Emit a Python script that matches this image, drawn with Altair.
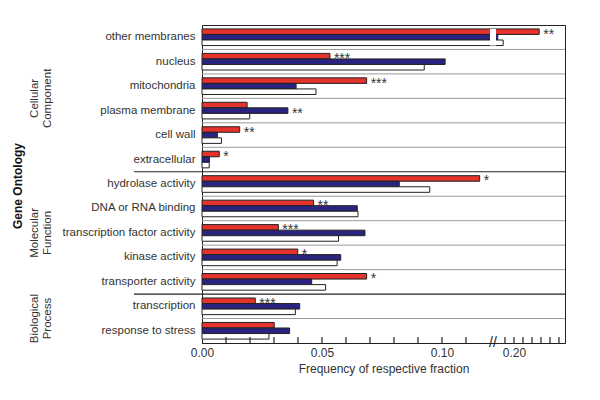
import altair as alt
import pandas as pd

# ---------------- data ----------------
CATS = ["other membranes", "nucleus", "mitochondria", "plasma membrane", "cell wall",
        "extracellular", "hydrolase activity", "DNA or RNA binding",
        "transcription factor activity", "kinase activity", "transporter activity",
        "transcription", "response to stress"]
SERIES = ["set A", "set B", "set C"]
RED = [0.228, 0.0533, 0.0686, 0.0188, 0.0157, 0.0072, 0.1157, 0.0465, 0.0318, 0.0399, 0.0686, 0.0222, 0.0301]
BLUE = [0.182, 0.1013, 0.0392, 0.0358, 0.0064, 0.0031, 0.0822, 0.0647, 0.0679, 0.0578, 0.0457, 0.0407, 0.0365]
WHITE = [0.188, 0.0926, 0.0475, 0.0199, 0.0081, 0.0030, 0.0949, 0.0650, 0.0569, 0.0563, 0.0515, 0.0389, 0.0279]
STARS = ["**", "***", "***", "**", "**", "*", "*", "**", "***", "*", "*", "***", ""]
STAR_ON = ["set A", "set A", "set A", "set B", "set A", "set A", "set A", "set A", "set A",
           "set A", "set A", "set A", "set A"]
GROUPS = ["Cellular\nComponent", "Molecular\nFunction", "Biological\nProcess"]
GROUP_SIZES = [6, 5, 2]
TICK_LABELS = [0.0, 0.05, 0.10, 0.20]
MINOR_TICKS = [0.01, 0.02, 0.03, 0.04, 0.05, 0.06, 0.07, 0.08, 0.09, 0.10, 0.11,
               0.19, 0.20, 0.21, 0.22, 0.23, 0.24, 0.25]
BREAK = [0.12, 0.18]
X_MAX = 0.2567
X_TITLE = "Frequency of respective fraction"
Y_TITLE = "Gene Ontology"

# ---------------- style ----------------
FONT = "Liberation Sans"
COLORS = ["#E4332D", "#2B2380", "#FFFFFF"]
INK = "#222222"
TXT = "#333333"
W, H = 363, 318
N = len(CATS)
STEP = H / N
PX_PER_UNIT = 2400
BRK_LO_PX = BREAK[0] * PX_PER_UNIT
BRK_HI_PX = BRK_LO_PX + 6

rows = []
for i, c in enumerate(CATS):
    for s, vals in zip(SERIES, [RED, BLUE, WHITE]):
        rows.append({"cat": c, "series": s, "v": vals[i]})
df = pd.DataFrame(rows)
val_of = {(r["cat"], r["series"]): r["v"] for r in rows}

df_stars = pd.DataFrame([{"cat": c, "series": s, "v": val_of[(c, s)], "label": t}
                         for c, s, t in zip(CATS, STAR_ON, STARS) if t])
df_gap = pd.DataFrame({"cat": [CATS[0]], "v": [BREAK[0]], "v2": [BREAK[1]]})
df_ticks = pd.DataFrame({"v": MINOR_TICKS})
df_break = pd.DataFrame({"v": [(BREAK[0] + BREAK[1]) / 2]})

group_ends = []
acc = 0
for n in GROUP_SIZES:
    acc += n
    group_ends.append(acc - 1)
df_sep_gray = pd.DataFrame({"cat": [c for i, c in enumerate(CATS[:-1]) if i not in group_ends]})
df_sep_black = pd.DataFrame({"cat": [CATS[i] for i in group_ends[:-1]]})

xscale = alt.Scale(domain=[0, BREAK[0], BREAK[1], X_MAX],
                   range=[0, BRK_LO_PX, BRK_HI_PX, W], nice=False, zero=False)
xaxis = alt.Axis(values=TICK_LABELS, format=".2f", ticks=False, grid=False, labelFlush=False,
                 domainColor=INK, labelFontSize=12, labelColor=TXT, labelPadding=4,
                 titleFontSize=12, titleFontWeight="normal", titleColor=TXT, titlePadding=5,
                 labelFont=FONT, titleFont=FONT)


def X(field="v"):
    return alt.X(f"{field}:Q", scale=xscale, axis=xaxis, title=X_TITLE)


yscale = alt.Scale(paddingInner=0.32, paddingOuter=0.16)
yaxis = alt.Axis(ticks=False, labelFontSize=11.5, labelColor=TXT, labelPadding=7,
                 domainColor=INK, labelFont=FONT, labelLimit=300)


def Y():
    return alt.Y("cat:N", sort=CATS, title=None, scale=yscale, axis=yaxis)


yoff = alt.YOffset("series:N", sort=SERIES, scale=alt.Scale(paddingInner=0, paddingOuter=0))

sep_gray = alt.Chart(df_sep_gray).mark_rule(color="#9a9a9a", strokeWidth=1, yOffset=STEP / 2).encode(
    y=Y(), x=alt.value(0), x2=alt.value(W))
sep_black = alt.Chart(df_sep_black).mark_rule(color=INK, strokeWidth=1.2, yOffset=STEP / 2).encode(
    y=Y(), x=alt.value(-68), x2=alt.value(W))

bars = alt.Chart(df).mark_bar(stroke=INK, strokeWidth=1).encode(
    x=X(), y=Y(), yOffset=yoff,
    color=alt.Color("series:N", scale=alt.Scale(domain=SERIES, range=COLORS), legend=None))

gap = alt.Chart(df_gap).mark_rect(color="white").encode(x=X(), x2="v2:Q", y=Y())

stars = alt.Chart(df_stars).mark_text(align="left", baseline="middle", dx=4, dy=3,
                                      fontSize=14, color=TXT, font=FONT).encode(
    x=X(), y=Y(), yOffset=yoff, text="label:N")

ticks = alt.Chart(df_ticks).mark_rule(color=INK, strokeWidth=1.2).encode(
    x=X(), y=alt.value(H - 6), y2=alt.value(H))

brk = alt.Chart(df_break).mark_text(text="//", fontSize=14, color=INK, font=FONT).encode(
    x=X(), y=alt.value(H))

layers = [sep_gray, sep_black, bars, gap, stars, ticks, brk]

start = 0
for name, n in zip(GROUPS, GROUP_SIZES):
    gdf = pd.DataFrame({"label": [name]})
    layers.append(alt.Chart(gdf).mark_text(angle=270, lineBreak="\n", lineHeight=13,
                                           fontSize=11.5, color=TXT, font=FONT,
                                           align="center", baseline="middle").encode(
        text="label:N", x=alt.value(-167), y=alt.value((start + n / 2) * STEP)))
    start += n

layers.append(alt.Chart(pd.DataFrame({"label": [Y_TITLE]})).mark_text(
    angle=270, fontSize=12, fontWeight="bold", color="#111", font=FONT,
    align="center", baseline="middle").encode(
    text="label:N", x=alt.value(-184), y=alt.value(H / 2 + 2)))

chart = alt.layer(*layers).properties(
    width=W, height=H,
    autosize=alt.AutoSizeParams(type="none"),
    padding={"left": 194, "top": 17, "right": 27, "bottom": 47},
    background="white",
).configure(font=FONT).configure_view(stroke=INK, strokeWidth=1)

chart.save("out.html", embed_options={"renderer": "svg", "actions": False})
